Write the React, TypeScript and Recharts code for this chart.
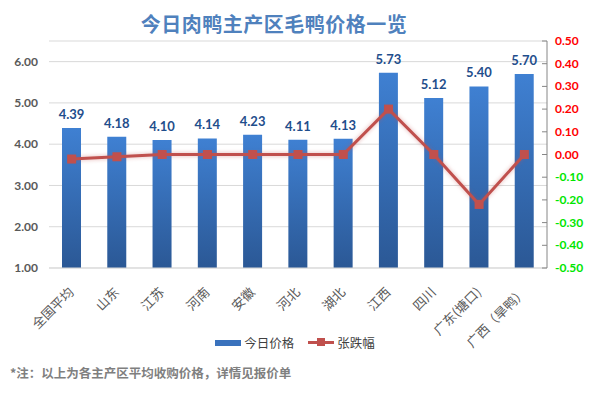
import {
  ComposedChart, Bar, Line, XAxis, YAxis, CartesianGrid, LabelList,
} from 'recharts'

const regions = ['全国平均', '山东', '江苏', '河南', '安徽', '河北', '湖北', '江西', '四川', '广东(塘口)', '广西（旱鸭）']
const prices = [4.39, 4.18, 4.10, 4.14, 4.23, 4.11, 4.13, 5.73, 5.12, 5.40, 5.70]
const changes = [-0.02, -0.01, 0, 0, 0, 0, 0, 0.20, 0, -0.22, 0]
const leftTicks = [1, 2, 3, 4, 5, 6]
const rightTicks = [-0.5, -0.4, -0.3, -0.2, -0.1, 0, 0.1, 0.2, 0.3, 0.4, 0.5]

const FONT = "'Microsoft YaHei', 'Noto Sans CJK SC', sans-serif"
const NUM_FONT = "'Lato', 'Noto Sans', sans-serif"

const data = regions.map((name, i) => ({ name, price: prices[i], change: changes[i] }))

function XTick({ x, y, payload }: any) {
  return (
    <text
      transform={`translate(${x + 3},${y + 17}) rotate(-45)`}
      textAnchor="end"
      fontSize={13}
      fontFamily={FONT}
      fill="#595959"
    >
      {payload.value}
    </text>
  )
}

function RightTick({ x, y, payload }: any) {
  const v = payload.value as number
  return (
    <g>
      <line x1={x - 13} x2={x - 8} y1={y} y2={y} stroke="#868686" />
      <text x={x} y={y} dy={4} textAnchor="start" fontSize={12} fontWeight="bold"
        fontFamily={NUM_FONT} fill={v < -0.001 ? '#00e600' : '#ff0000'}>
        {v.toFixed(2)}
      </text>
    </g>
  )
}

function SquareDot({ cx, cy }: any) {
  if (cx == null || cy == null) return null
  return <rect x={cx - 4.5} y={cy - 4.5} width={9} height={9} fill="#c0504d" />
}

export default function App() {
  return (
    <div style={{ position: 'absolute', left: 0, top: 0, width: 590, height: 395, background: '#fff', fontFamily: FONT }}>
      <div style={{
        position: 'absolute', left: 0, top: 9, width: 548, textAlign: 'center',
        fontSize: 20, fontWeight: 'bold', color: '#4f81bd', letterSpacing: 0.5,
      }}>
        今日肉鸭主产区毛鸭价格一览
      </div>

      <ComposedChart width={590} height={395} data={data}
        margin={{ top: 41, right: 0, left: 0, bottom: 0 }} barCategoryGap={0}>
        <defs>
          <linearGradient id="barGrad" x1="0" y1="0" x2="0" y2="1">
            <stop offset="0%" stopColor="#3f80d2" />
            <stop offset="100%" stopColor="#2b5895" />
          </linearGradient>
        </defs>
        <CartesianGrid yAxisId="left" vertical={false} stroke="#d9d9d9" />
        <XAxis dataKey="name" interval={0} height={127} tick={<XTick />}
          axisLine={{ stroke: '#d9d9d9' }} tickLine={false} />
        <YAxis yAxisId="left" domain={[1, 6.5]} ticks={leftTicks} width={49}
          axisLine={false} tickLine={false} tickSize={6} tickMargin={5}
          tickFormatter={(v: number) => v.toFixed(2)}
          tick={{ fontSize: 12, fontWeight: 'bold', fill: '#595959', fontFamily: NUM_FONT }} />
        <YAxis yAxisId="right" orientation="right" domain={[-0.5, 0.5]} ticks={rightTicks} width={43}
          interval={0} axisLine={{ stroke: '#868686' }} tickLine={false} tickSize={4} tickMargin={4}
          tick={<RightTick />} />
        <Bar yAxisId="left" dataKey="price" barSize={19} fill="url(#barGrad)" isAnimationActive={false}>
          <LabelList dataKey="price" position="top" offset={9}
            formatter={(v: any) => Number(v).toFixed(2)}
            style={{ fontSize: 13, fontWeight: 'bold', fill: '#1f4e8c', fontFamily: NUM_FONT }} />
        </Bar>
        <Line yAxisId="right" dataKey="change" stroke="#c0504d" strokeWidth={3}
          dot={<SquareDot />} activeDot={false} isAnimationActive={false}
          style={{ filter: 'drop-shadow(0 0 2px rgba(192,80,77,0.45))' }} />
      </ComposedChart>

      <div style={{
        position: 'absolute', top: 333, left: 0, width: 590, display: 'flex',
        justifyContent: 'center', alignItems: 'center', fontSize: 12.5, color: '#404040',
      }}>
        <span style={{ display: 'inline-block', width: 26, height: 6, background: '#3a72bd', marginRight: 3 }} />
        <span style={{ marginRight: 14 }}>今日价格</span>
        <span style={{ position: 'relative', display: 'inline-block', width: 26, height: 9, marginRight: 3 }}>
          <span style={{ position: 'absolute', left: 0, top: 3, width: 26, height: 3, background: '#c0504d' }} />
          <span style={{ position: 'absolute', left: 9, top: 0, width: 8, height: 8, background: '#c0504d' }} />
        </span>
        <span>张跌幅</span>
      </div>

      <div style={{
        position: 'absolute', top: 363, left: 10, fontSize: 12.5, fontWeight: 'bold', color: '#7f7f7f',
      }}>
        *注：以上为各主产区平均收购价格，详情见报价单
      </div>
    </div>
  )
}
